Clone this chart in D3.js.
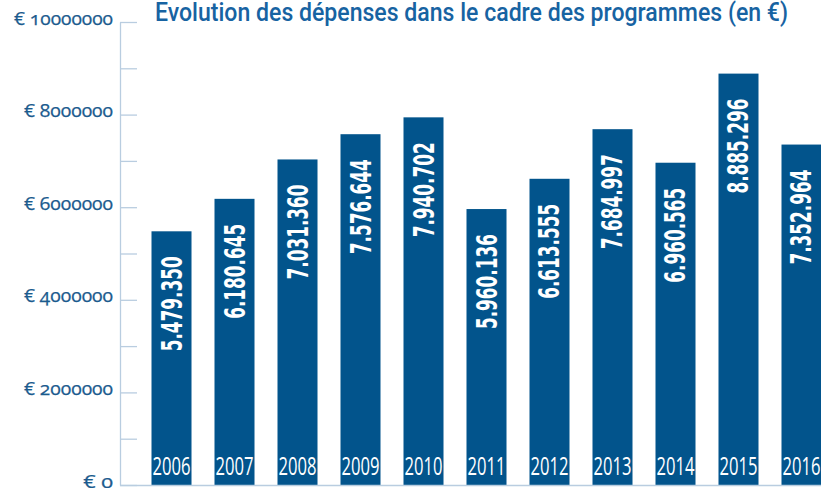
<!DOCTYPE html>
<html>
<head>
<meta charset="utf-8">
<script src="https://cdn.jsdelivr.net/npm/d3@7"></script>
<style>
  body { margin: 0; background: #fff; }
  svg { display: block; }
</style>
</head>
<body>
<div id="chart-area"></div>
<script>
// data
var years = ["2006", "2007", "2008", "2009", "2010", "2011", "2012", "2013", "2014", "2015", "2016"];
var spending = [5479350, 6180645, 7031360, 7576644, 7940702, 5960136, 6613555, 7684997, 6960565, 8885296, 7352964];
var yTicks = [0, 1000000, 2000000, 3000000, 4000000, 5000000, 6000000, 7000000, 8000000, 9000000, 10000000];
var yTickLabels = ["€ 0", "", "€ 2000000", "", "€ 4000000", "", "€ 6000000", "", "€ 8000000", "", "€ 10000000"];
var title = "Evolution des dépenses dans le cadre des programmes (en €)";

var width = 821;
var height = 488;
var left = 120;
var bottom = 485;

var barColor = "#02548c";
var axisColor = "#b9cde0";
var textColor = "#1b5b8e";

var svg = d3.select("#chart-area")
  .append("svg")
  .attr("width", width)
  .attr("height", height);

var x = d3.scaleBand()
  .domain(years)
  .range([left, left + 733])
  .paddingInner(0.365)
  .paddingOuter(0.5);

var y = d3.scaleLinear()
  .domain([0, 10000000])
  .range([bottom, 22]);

// y axis, ticks pointing inwards
var yAxisCall = d3.axisLeft(y)
  .tickValues(yTicks)
  .tickSizeInner(-17)
  .tickSizeOuter(0)
  .tickPadding(7)
  .tickFormat((d, i) => yTickLabels[i]);

var yAxisGroup = svg.append("g")
  .attr("transform", "translate(" + left + ", 0)")
  .call(yAxisCall);

yAxisGroup.select(".domain").attr("stroke", axisColor).attr("stroke-width", 1.3);
yAxisGroup.selectAll(".tick line").attr("stroke", axisColor).attr("stroke-width", 1.3);
yAxisGroup.selectAll(".tick text")
  .attr("fill", textColor)
  .attr("font-family", "'Open Sans', Lato, sans-serif")
  .attr("font-size", "18px")
  .style("font-variant-numeric", "oldstyle-nums")
  .style("font-feature-settings", "'onum' 1")
  .attr("stroke", textColor)
  .attr("stroke-width", 0.25)
  .attr("textLength", (d, i) => yTickLabels[i].length * 9.9)
  .attr("lengthAdjust", "spacingAndGlyphs")
  .attr("dy", "0.12em");

// bars
svg.selectAll("rect.bar")
  .data(spending)
  .enter()
  .append("rect")
  .attr("class", "bar")
  .attr("x", (d, i) => x(years[i]))
  .attr("y", (d) => y(d))
  .attr("width", x.bandwidth())
  .attr("height", (d) => bottom - y(d))
  .attr("fill", barColor);

// baseline
svg.append("line")
  .attr("x1", left)
  .attr("x2", width)
  .attr("y1", bottom + 0.5)
  .attr("y2", bottom + 0.5)
  .attr("stroke", axisColor)
  .attr("stroke-width", 1.3);

// value labels, rotated inside bars
var fmt = (v) => d3.format(",")(v).replace(/,/g, ".");

svg.selectAll("text.value")
  .data(spending)
  .enter()
  .append("text")
  .attr("class", "value")
  .attr("transform", (d, i) => "translate(" + (x(years[i]) + x.bandwidth() / 2 + 10) + "," + (y(d) + 25) + ") rotate(-90)")
  .attr("text-anchor", "end")
  .attr("fill", "#fff")
  .attr("font-family", "'DejaVu Sans Condensed', 'Liberation Sans Narrow', sans-serif")
  .attr("font-weight", "bold")
  .attr("font-size", "28px")
  .attr("textLength", 95)
  .attr("lengthAdjust", "spacingAndGlyphs")
  .text((d) => fmt(d));

// year labels at the foot of the bars
svg.selectAll("text.year")
  .data(years)
  .enter()
  .append("text")
  .attr("class", "year")
  .attr("x", (d) => x(d) + 1)
  .attr("y", 475)
  .attr("fill", "#fff")
  .attr("font-family", "'Open Sans', sans-serif")
  .attr("font-size", "26px")
  .attr("textLength", 38)
  .attr("lengthAdjust", "spacingAndGlyphs")
  .text((d) => d);

// title
svg.append("text")
  .attr("x", 155)
  .attr("y", 21)
  .attr("fill", "#1763a2")
  .attr("font-family", "Roboto, 'DejaVu Sans Condensed', sans-serif")
  .attr("font-weight", 500)
  .attr("font-size", "25px")
  .attr("textLength", 633)
  .attr("lengthAdjust", "spacingAndGlyphs")
  .text(title);
</script>
</body>
</html>
